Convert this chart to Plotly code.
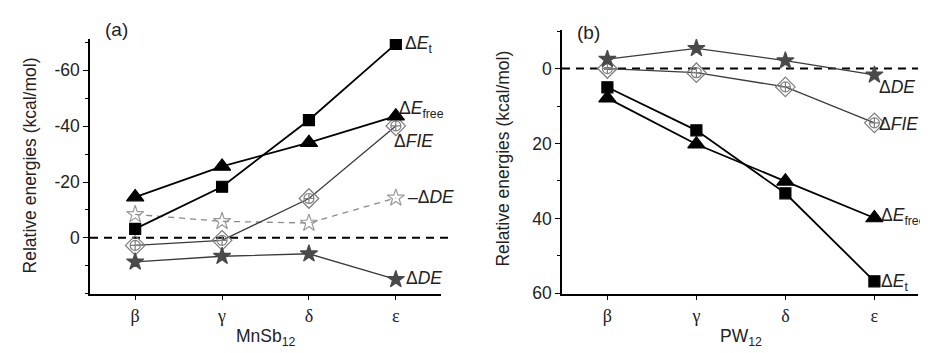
import plotly.graph_objects as go

W, H = 928, 353

categories = ["β", "γ", "δ", "ε"]
xpos = [0, 1, 2, 3]

# Panel (a) MnSb12
a_Et = [-3.2, -18.3, -42.2, -69.5]
a_Efree = [-14.6, -25.6, -34.1, -43.6]
a_FIE = [2.7, 0.9, -14.1, -40.1]
a_negDE = [-8.4, -5.9, -5.3, -14.3]
a_DE = [8.6, 6.6, 5.7, 14.9]

# Panel (b) PW12
b_Et = [5.0, 16.5, 33.3, 56.8]
b_Efree = [7.9, 20.2, 30.1, 39.9]
b_FIE = [0.0, 1.1, 4.9, 14.5]
b_DE = [-2.5, -5.4, -2.1, 1.7]

a_yticks = [-60, -40, -20, 0]
b_yticks = [0, 20, 40, 60]


def px(x):
    return x / W


def py(y):
    return 1 - y / H


fig = go.Figure()


def add_series(xa, ya, y, color, symbol, size, lw, dash="solid", mcolor=None, mline=None):
    fig.add_trace(go.Scatter(
        x=xpos, y=y, xaxis=xa, yaxis=ya, mode="lines+markers",
        line=dict(color=color, width=lw, dash=dash),
        marker=dict(symbol=symbol, size=size, color=mcolor or color,
                    line=dict(color=mline or (mcolor or color), width=1.2)),
        showlegend=False, hoverinfo="skip"))


def add_fie(xa, ya, y):
    fig.add_trace(go.Scatter(
        x=xpos, y=y, xaxis=xa, yaxis=ya, mode="lines+markers",
        line=dict(color="#3a3a3a", width=1.3),
        marker=dict(symbol="diamond-open", size=15, color="#808080",
                    line=dict(color="#808080", width=1.3)),
        showlegend=False, hoverinfo="skip"))
    fig.add_trace(go.Scatter(
        x=xpos, y=y, xaxis=xa, yaxis=ya, mode="markers",
        marker=dict(symbol="circle-cross-open", size=10, color="#808080",
                    line=dict(color="#808080", width=1.2)),
        showlegend=False, hoverinfo="skip"))


# panel a
add_series("x", "y", a_negDE, "#8a8a8a", "star-open", 13, 1.3, dash="6px,5px", mcolor="#9a9a9a")
add_fie("x", "y", a_FIE)
add_series("x", "y", a_DE, "#3a3a3a", "star", 13, 1.3, mcolor="#4a4a4a")
add_series("x", "y", a_Efree, "black", "triangle-up", 15, 1.8)
add_series("x", "y", a_Et, "black", "square", 11, 1.8)

# panel b
add_fie("x2", "y2", b_FIE)
add_series("x2", "y2", b_DE, "#3a3a3a", "star", 13, 1.3, mcolor="#4a4a4a")
add_series("x2", "y2", b_Efree, "black", "triangle-up", 15, 1.8)
add_series("x2", "y2", b_Et, "black", "square", 11, 1.8)

axis_common = dict(showline=True, linecolor="black", linewidth=1.5, mirror=False,
                   showgrid=False, zeroline=False, ticks="outside", ticklen=5,
                   tickwidth=1.3, tickcolor="black")
xfont = dict(family="Liberation Serif", size=18, color="#222")
yfont = dict(family="Liberation Sans", size=17.5, color="#222")

fig.update_layout(
    width=W, height=H, margin=dict(l=0, r=0, t=0, b=0),
    plot_bgcolor="white", paper_bgcolor="white",
    xaxis=dict(domain=[px(82), px(433)], range=[-0.52, 3.52], anchor="y",
               tickvals=xpos, ticktext=categories, tickfont=xfont, **axis_common),
    yaxis=dict(domain=[py(294), py(32)], range=[20, -71.2], anchor="x",
               tickvals=a_yticks, ticktext=[str(v) for v in a_yticks], tickfont=yfont,
               minor=dict(dtick=10, tick0=0, ticklen=3, ticks="outside", tickcolor="black"),
               **axis_common),
    xaxis2=dict(domain=[px(554), px(910)], range=[-0.51, 3.49], anchor="y2",
                tickvals=xpos, ticktext=categories, tickfont=xfont, **axis_common),
    yaxis2=dict(domain=[py(294), py(23)], range=[60.1, -10.2], anchor="x2",
                tickvals=b_yticks, ticktext=[str(v) for v in b_yticks], tickfont=yfont,
                minor=dict(dtick=10, tick0=0, ticklen=3, ticks="outside", tickcolor="black"),
                **axis_common),
)

# zero dashed lines
fig.add_shape(type="line", xref="x domain", yref="y", x0=0, x1=1.035, y0=0, y1=0,
              line=dict(color="black", width=2, dash="8px,6px"), layer="below")
fig.add_shape(type="line", xref="x2 domain", yref="y2", x0=0, x1=1.0, y0=0, y1=0,
              line=dict(color="black", width=2, dash="8px,6px"), layer="below")

lab = dict(family="Liberation Sans", size=17.5, color="#222")


def ann(x, y, text, **kw):
    d = dict(x=px(x), y=py(y), xref="paper", yref="paper", text=text, showarrow=False,
             font=kw.pop("font", lab), xanchor=kw.pop("xanchor", "left"),
             yanchor=kw.pop("yanchor", "middle"))
    d.update(kw)
    fig.add_annotation(**d)


# panel labels
ann(95, 22, "(a)", font=dict(family="Liberation Sans", size=19, color="#222"))
ann(567, 25, "(b)", font=dict(family="Liberation Sans", size=19, color="#222"))

# series labels panel a
ann(395, 38, "Δ<i>E</i><sub>t</sub>")
ann(389, 104, "Δ<i>E</i><sub>free</sub>")
ann(384, 137, "Δ<i>FIE</i>")
ann(398, 195, "–Δ<i>DE</i>")
ann(396, 278, "Δ<i>DE</i>")

# series labels panel b
ann(869, 81, "Δ<i>DE</i>")
ann(869, 119, "Δ<i>FIE</i>")
ann(871, 215, "Δ<i>E</i><sub>free</sub>")
ann(871, 282, "Δ<i>E</i><sub>t</sub>")

# axis titles
tfont = dict(family="Liberation Sans", size=17.5, color="#222")
ann(22, 162, "Relative energies (kcal/mol)", font=tfont, xanchor="center", textangle=-90)
ann(495, 155, "Relative energies (kcal/mol)", font=tfont, xanchor="center", textangle=-90)
ann(258, 339, "MnSb<sub>12</sub>", font=tfont, xanchor="center")
ann(733, 339, "PW<sub>12</sub>", font=tfont, xanchor="center")

fig.write_html("out.html")
